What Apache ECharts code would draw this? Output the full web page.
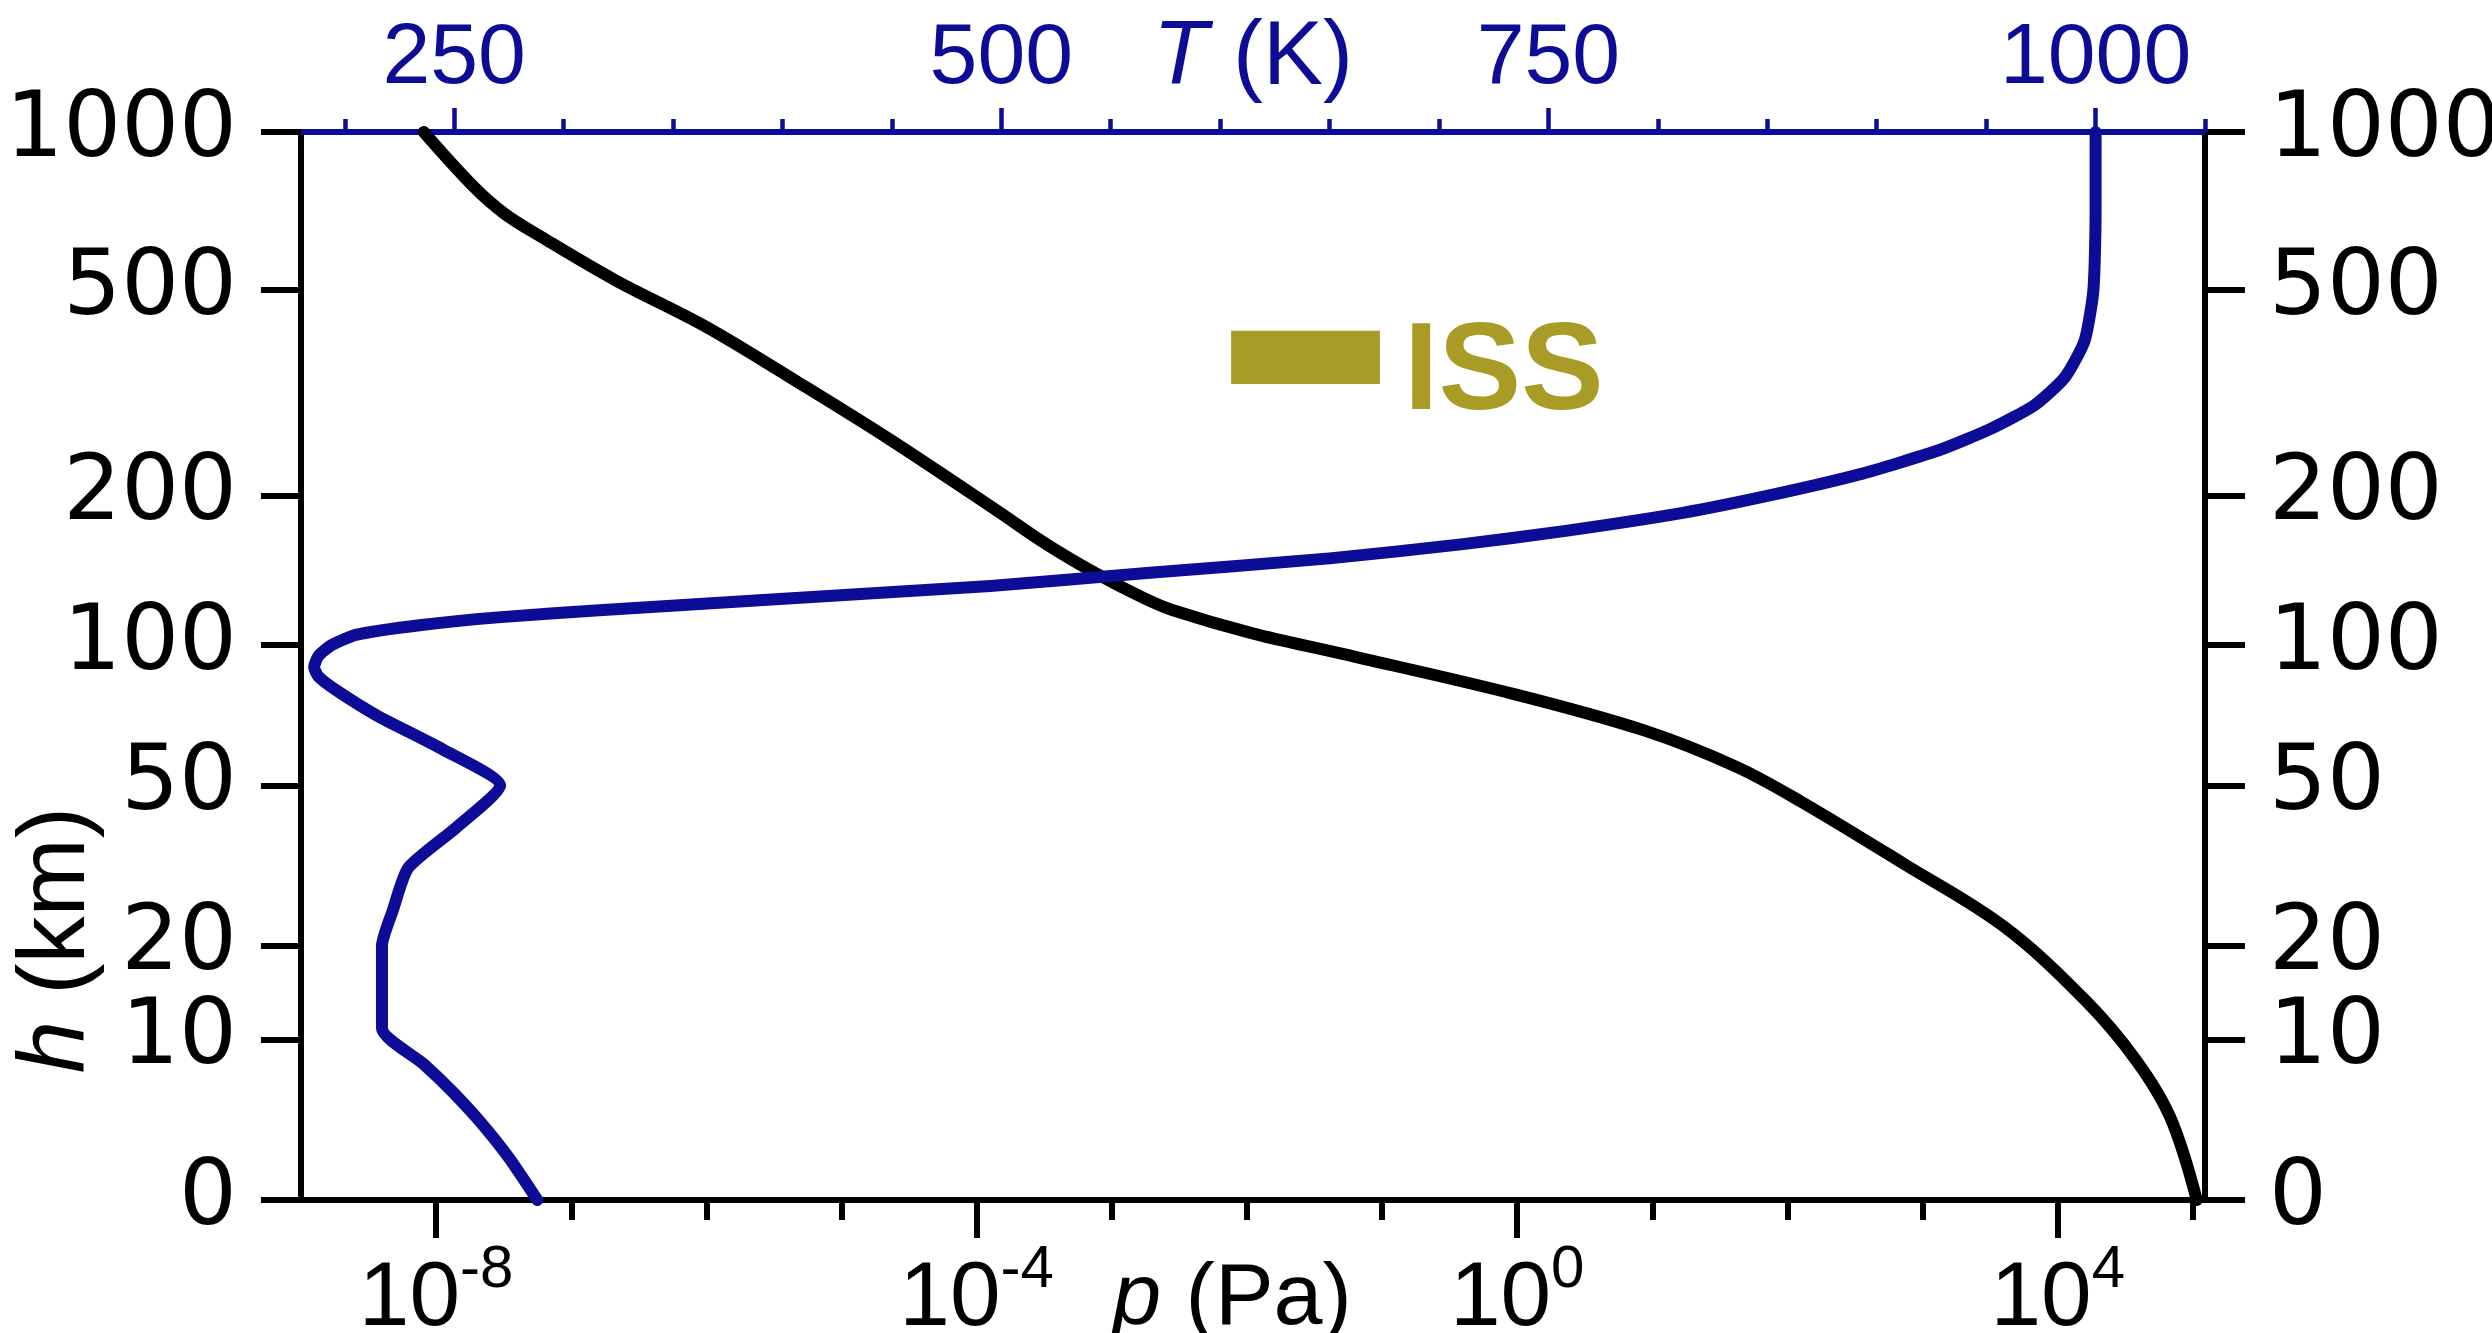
<!DOCTYPE html>
<html><head><meta charset="utf-8">
<script src="https://cdn.jsdelivr.net/npm/echarts@6/dist/echarts.min.js"></script>
<style>html,body{margin:0;padding:0;background:#fff}#c{width:2492px;height:1333px}</style>
</head><body><div id="c"></div>
<script>
// ---- data ----
// pressure profile: altitude h (km) and pressure p (Pa)
const H_P  = [0, 4.3, 8.3, 13.7, 22.6, 32.9, 46, 55, 66, 79, 96, 105.7, 118, 125, 140, 160, 187, 257, 331, 425, 523, 632, 700, 787, 1000];
const P_PA = [1.07e5, 6.8e4, 3.8e4, 1.6e4, 4.0e3, 7.1e2, 1.25e2, 42, 8.8, 0.95, 0.05, 0.011, 2.8e-3, 1.7e-3, 7.6e-4, 3.3e-4, 1.4e-4, 2.3e-5, 4.9e-6, 1.0e-6, 2.1e-7, 6.0e-8, 3.2e-8, 1.9e-8, 8.1e-9];
// temperature profile: altitude h (km) and temperature T (K)
const H_T = [0, 2, 4, 6, 8, 11, 20, 25, 32, 40, 50, 60, 71, 80, 86, 90, 95, 100, 105, 110, 114, 118, 124, 132, 140, 150, 160, 170, 185, 200, 220, 245, 270, 300, 340, 400, 500, 700, 1000];
const T_K = [288, 275, 262, 249, 236, 217, 217, 222, 229, 251, 271, 245, 215, 197, 188, 186, 188, 194, 205, 235, 270, 318, 395, 495, 565, 650, 710, 757, 812, 851, 892, 928, 952, 972, 986, 995, 999, 1000, 1000];
// ISS altitude band (km) and its marker extent on the T axis (K)
const ISS_ALT = [330, 418];
const ISS_T = [605, 673];
// ticks
const H_TICKS = [0, 10, 20, 50, 100, 200, 500, 1000];
const P_TICK_EXP = [-8, -7, -6, -5, -4, -3, -2, -1, 0, 1, 2, 3, 4, 5];
const P_LABEL_EXP = [-8, -4, 0, 4];
const T_TICKS = [200, 250, 300, 350, 400, 450, 500, 550, 600, 650, 700, 750, 800, 850, 900, 950, 1000, 1050];
const T_LABELS = [250, 500, 750, 1000];

// ---- style ----
const FONT = '"Liberation Sans", Arial, Helvetica, sans-serif';
const WIDE = '"DejaVu Sans", "Liberation Sans", sans-serif';
const BLUE = '#0c0c96';
const OLIVE = '#a89c26';
const AXW = 6;
const LW = 12;
const hT = h => Math.log10(h + 10);   // altitude axis transform

const chart = echarts.init(document.getElementById('c'), null, {renderer: 'canvas'});

const blackData = H_P.map((h, i) => [Math.log10(P_PA[i]), hT(h)]);
const blueData = H_T.map((h, i) => [T_K[i], hT(h)]);

const yCommon = {
  type: 'value', min: hT(0), max: hT(1000),
  axisLine: {show: true, onZero: false, lineStyle: {color: '#000', width: AXW}},
  axisTick: {show: true, customValues: H_TICKS.map(hT), length: 40, lineStyle: {color: '#000', width: AXW}},
  axisLabel: {show: true, customValues: H_TICKS.map(hT), margin: 64,
    formatter: v => String(Math.round(Math.pow(10, v) - 10)),
    fontSize: 91, lineHeight: 91, fontFamily: WIDE, color: '#000'},
  splitLine: {show: false}
};

const option = {
  backgroundColor: '#fff',
  animation: false,
  grid: {left: 301, top: 132, width: 1904, height: 1068, containLabel: false, outerBoundsMode: 'none'},
  xAxis: [
    { // p minor ticks + axis line
      type: 'value', position: 'bottom', min: -9, max: 5.09,
      axisLine: {show: true, onZero: false, lineStyle: {color: '#000', width: AXW}},
      axisTick: {show: true, customValues: P_TICK_EXP, length: 20, lineStyle: {color: '#000', width: AXW}},
      axisLabel: {show: false}, splitLine: {show: false}
    },
    { // p major ticks + labels
      type: 'value', position: 'bottom', min: -9, max: 5.09,
      axisLine: {show: false, onZero: false},
      axisTick: {show: true, customValues: P_LABEL_EXP, length: 38, lineStyle: {color: '#000', width: AXW}},
      axisLabel: {show: true, customValues: P_LABEL_EXP, margin: 50,
        formatter: v => '{b|10}{s|' + v + '}',
        rich: {
          b: {fontSize: 91, height: 100, lineHeight: 100, fontFamily: FONT, color: '#000'},
          s: {fontSize: 60, height: 40, lineHeight: 40, verticalAlign: 'top', fontFamily: FONT, color: '#000'}
        }},
      splitLine: {show: false},
      name: '{i|p}{n| (Pa)}', nameLocation: 'middle', nameGap: 50, nameMoveOverlap: false,
      nameTextStyle: {padding: [0, 42, 0, 0], rich: {
        i: {fontSize: 88, height: 100, lineHeight: 100, fontStyle: 'italic', fontFamily: FONT, color: '#000'},
        n: {fontSize: 88, height: 100, lineHeight: 100, fontFamily: FONT, color: '#000'}
      }}
    },
    { // T minor ticks + axis line
      type: 'value', position: 'top', min: 180, max: 1050,
      axisLine: {show: true, onZero: false, lineStyle: {color: BLUE, width: AXW}},
      axisTick: {show: true, customValues: T_TICKS, length: 13, lineStyle: {color: BLUE, width: 4.5}},
      axisLabel: {show: false}, splitLine: {show: false}
    },
    { // T major ticks + labels
      type: 'value', position: 'top', min: 180, max: 1050,
      axisLine: {show: false, onZero: false},
      axisTick: {show: true, customValues: T_LABELS, length: 24, lineStyle: {color: BLUE, width: 4.5}},
      axisLabel: {show: true, customValues: T_LABELS, margin: 30, formatter: v => String(v),
        fontSize: 86, lineHeight: 86, fontFamily: FONT, color: BLUE},
      splitLine: {show: false},
      name: '{i|T}{n| (K)}', nameLocation: 'middle', nameGap: 30, nameMoveOverlap: false,
      nameTextStyle: {rich: {
        i: {fontSize: 90, lineHeight: 86, fontStyle: 'italic', fontFamily: FONT, color: BLUE},
        n: {fontSize: 90, lineHeight: 86, fontFamily: FONT, color: BLUE}
      }}
    }
  ],
  yAxis: [
    Object.assign({}, yCommon, {position: 'left'}),
    Object.assign({}, yCommon, {position: 'right'})
  ],
  graphic: [{
    type: 'text', x: 58, y: 940, rotation: Math.PI / 2,
    style: {
      text: '{i|h}{n| (km)}', align: 'center', verticalAlign: 'middle',
      rich: {
        i: {fontSize: 94, fontStyle: 'italic', fontFamily: FONT, fill: '#000', color: '#000'},
        n: {fontSize: 94, fontFamily: FONT, fill: '#000', color: '#000'}
      }
    }
  }],
  series: [
    {
      name: 'p', type: 'line', xAxisIndex: 0, yAxisIndex: 0,
      data: blackData, showSymbol: false, smooth: 0.35,
      lineStyle: {color: '#000', width: LW, cap: 'round', join: 'round'},
      z: 3
    },
    {
      name: 'T', type: 'line', xAxisIndex: 2, yAxisIndex: 0,
      data: blueData, showSymbol: false, smooth: 0.2,
      lineStyle: {color: BLUE, width: LW, cap: 'round', join: 'round'},
      z: 4,
      markArea: {
        silent: true,
        itemStyle: {color: OLIVE, opacity: 1},
        label: {show: true, position: 'right', distance: 24, offset: [0, 17], formatter: 'ISS',
          fontSize: 124, fontWeight: 'bold', fontFamily: FONT, color: OLIVE},
        data: [[
          {xAxis: ISS_T[0], yAxis: hT(ISS_ALT[0])},
          {xAxis: ISS_T[1], yAxis: hT(ISS_ALT[1])}
        ]]
      }
    }
  ]
};
chart.setOption(option);
</script>
</body></html>
